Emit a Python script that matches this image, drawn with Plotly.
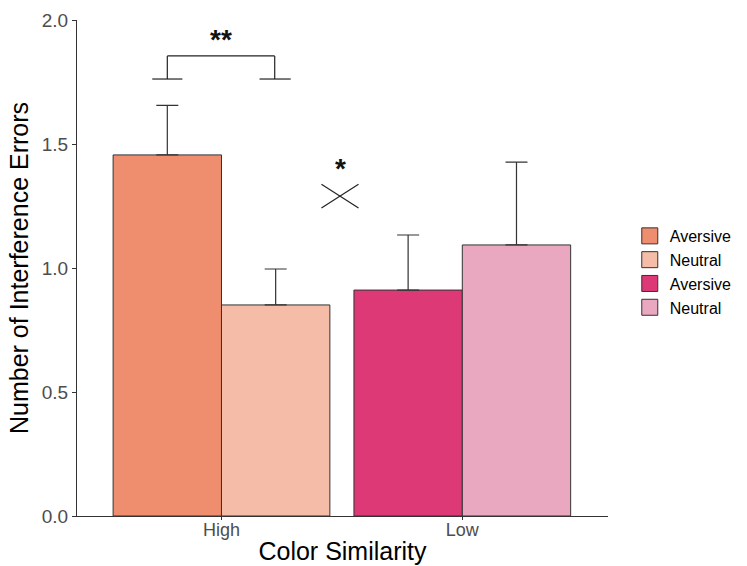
import plotly.graph_objects as go

# Mean interference errors with standard errors (upper bars only)
similarity = ["High", "High", "Low", "Low"]
emotion = ["Aversive", "Neutral", "Aversive", "Neutral"]
means = [1.456, 0.851, 0.911, 1.093]
se = [0.200, 0.145, 0.222, 0.334]
colors = ["#EE8E6E", "#F5BCA8", "#DD3977", "#EAA7C0"]
y_ticks = [0.0, 0.5, 1.0, 1.5, 2.0]

# side-by-side placement within each similarity group
offsets = [-0.45, 0.0, -0.45, 0.0]
bar_w = 0.45

FONT = "Liberation Sans"
OUTLINE = "#333333"

fig = go.Figure()
for i in range(4):
    fig.add_trace(go.Bar(
        x=[similarity[i]], y=[means[i]],
        width=bar_w, offset=offsets[i],
        marker=dict(color=colors[i], line=dict(color=OUTLINE, width=1)),
        error_y=dict(type="data", array=[se[i]], arrayminus=[0],
                     color=OUTLINE, thickness=1.2, width=11),
        showlegend=False, hoverinfo="skip",
    ))
    # legend keys
    fig.add_trace(go.Scatter(
        x=[None], y=[None], mode="markers", name=emotion[i],
        marker=dict(symbol="square", size=16, color=colors[i],
                    line=dict(color=OUTLINE, width=1)),
    ))

line_style = dict(color="#222222", width=1.2)
shapes = []
# significance bracket between High bars
bx_l, bx_r = -0.225, 0.221
y_top, y_foot = 1.855, 1.762
shapes.append(dict(type="line", xref="x", yref="y", x0=bx_l, x1=bx_r, y0=y_top, y1=y_top, line=line_style))
shapes.append(dict(type="line", xref="x", yref="y", x0=bx_l, x1=bx_l, y0=y_top, y1=y_foot, line=line_style))
shapes.append(dict(type="line", xref="x", yref="y", x0=bx_r, x1=bx_r, y0=y_top, y1=y_foot, line=line_style))
shapes.append(dict(type="line", xref="x", yref="y", x0=-0.2875, x1=-0.1625, y0=y_foot, y1=y_foot, line=line_style))
shapes.append(dict(type="line", xref="x", yref="y", x0=0.158, x1=0.2875, y0=y_foot, y1=y_foot, line=line_style))
# crossed lines marking the interaction
cx, cy, dx, dy = 0.492, 1.29, 0.077, 0.048
shapes.append(dict(type="line", xref="x", yref="y", x0=cx - dx, x1=cx + dx, y0=cy + dy, y1=cy - dy, line=line_style))
shapes.append(dict(type="line", xref="x", yref="y", x0=cx - dx, x1=cx + dx, y0=cy - dy, y1=cy + dy, line=line_style))

annotations = [
    dict(x=-0.004, y=1.92, xref="x", yref="y", text="<b>**</b>", showarrow=False,
         font=dict(family=FONT, size=28, color="#111111")),
    dict(x=0.496, y=1.40, xref="x", yref="y", text="<b>*</b>", showarrow=False,
         font=dict(family=FONT, size=28, color="#111111")),
]

fig.update_layout(
    width=747, height=566,
    margin=dict(l=77, r=139, t=20, b=50, autoexpand=False),
    paper_bgcolor="white", plot_bgcolor="white",
    barmode="overlay",
    font=dict(family=FONT, color="#000000"),
    shapes=shapes, annotations=annotations,
    legend=dict(x=1.041, y=0.492, xanchor="left", yanchor="middle",
                font=dict(family=FONT, size=16, color="#000000"),
                tracegroupgap=0, itemwidth=30, bgcolor="rgba(0,0,0,0)"),
    xaxis=dict(type="category", range=[-0.6, 1.605], automargin=False,
               showline=True, linecolor="#333333", linewidth=1,
               ticks="outside", ticklen=3, tickcolor="#333333",
               ticklabelstandoff=-6,
               tickfont=dict(family=FONT, size=18, color="#4D4D4D"),
               title=dict(text="Color Similarity", standoff=3,
                          font=dict(family=FONT, size=25, color="#000000")),
               showgrid=False, zeroline=False),
    yaxis=dict(range=[0, 2.0], tickvals=y_ticks, ticktext=[f"{v:.1f}" for v in y_ticks],
               automargin=False,
               showline=True, linecolor="#333333", linewidth=1,
               ticks="outside", ticklen=4, tickcolor="#333333",
               tickfont=dict(family=FONT, size=19, color="#4D4D4D"),
               title=dict(text="Number of Interference Errors", standoff=6,
                          font=dict(family=FONT, size=25, color="#000000")),
               showgrid=False, zeroline=False),
)

fig.write_html("out.html")
